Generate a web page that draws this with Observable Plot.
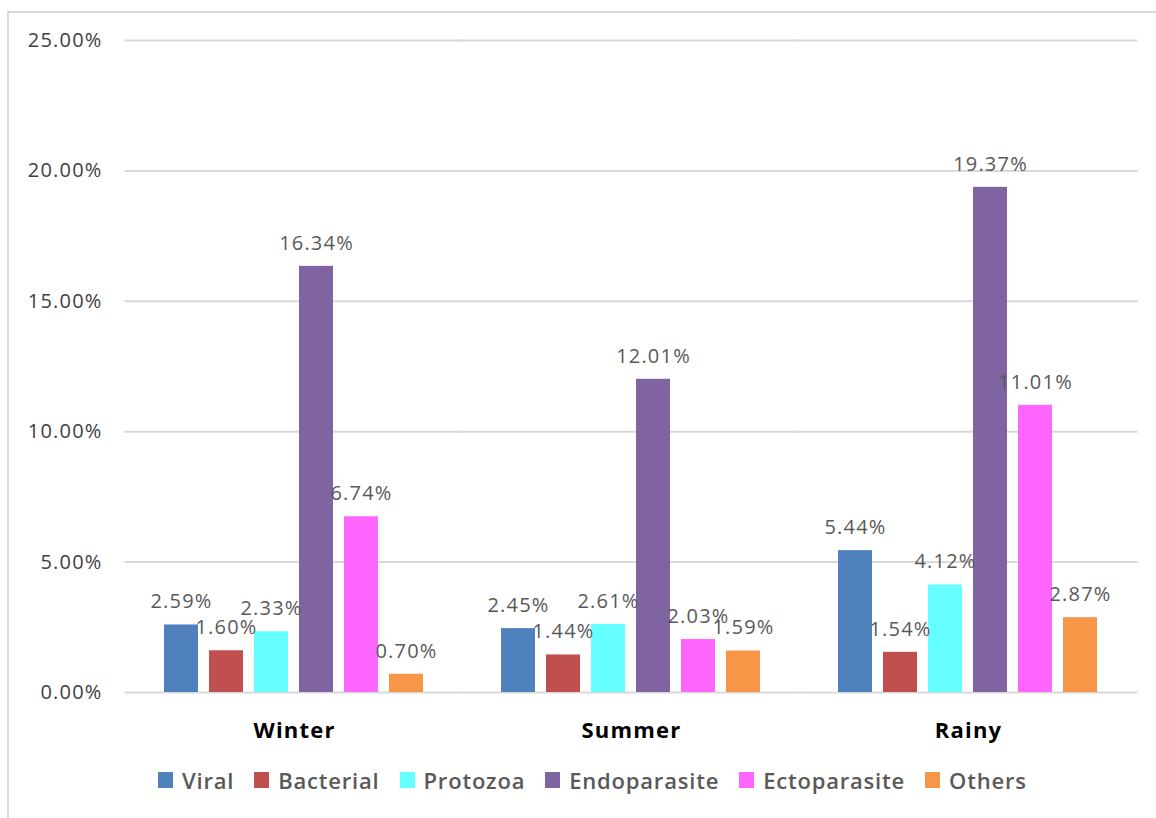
<!DOCTYPE html>
<html>
<head>
<meta charset="utf-8">
<script src="https://cdn.jsdelivr.net/npm/d3@7"></script>
<script src="https://cdn.jsdelivr.net/npm/@observablehq/plot@0.6"></script>
<style>
  html, body { margin: 0; padding: 0; background: #fff; }
  body { width: 1156px; height: 818px; position: relative; overflow: hidden; font-family: "Open Sans", sans-serif; }
  #frame { position: absolute; left: 7px; top: 11px; width: 1170px; height: 830px; border-left: 2px solid #d9d9d9; border-top: 2px solid #d9d9d9; }
  #chart { position: absolute; left: 0; top: 0; }
  #legend { position: absolute; left: 158px; top: 765px; display: flex; align-items: center; gap: 20px; font-size: 22px; font-weight: 600; letter-spacing: 0.8px; color: #595959; }
  .item { display: flex; align-items: center; gap: 9px; }
  .sw { width: 15px; height: 16px; display: inline-block; }
  #chart text { letter-spacing: 1.2px; }
</style>
</head>
<body>
<div id="frame"></div>
<div id="chart"></div>
<div id="legend"></div>
<script>
const seasons = ["Winter", "Summer", "Rainy"];
const categories = ["Viral", "Bacterial", "Protozoa", "Endoparasite", "Ectoparasite", "Others"];
const colors = ["#4f81bd", "#c0504d", "#66ffff", "#8064a2", "#ff66ff", "#f79646"];
const winter = [2.59, 1.60, 2.33, 16.34, 6.74, 0.70];
const summer = [2.45, 1.44, 2.61, 12.01, 2.03, 1.59];
const rainy = [5.44, 1.54, 4.12, 19.37, 11.01, 2.87];
const yTicks = [0, 5, 10, 15, 20, 25];

const seriesBySeason = [winter, summer, rainy];
const data = [];
seasons.forEach((s, i) => categories.forEach((c, j) => data.push({season: s, category: c, value: seriesBySeason[i][j]})));

const fmt = v => v.toFixed(2) + "%";

const chart = Plot.plot({
  width: 1156,
  height: 760,
  marginLeft: 124,
  marginRight: 19,
  marginTop: 40,
  marginBottom: 68,
  style: {fontFamily: "'Open Sans', sans-serif", background: "transparent"},
  fx: {domain: seasons, paddingInner: 0.2, paddingOuter: 0.1, label: null},
  x: {domain: categories, paddingInner: 0.24, paddingOuter: 0.12, axis: null},
  y: {domain: [0, 25], label: null},
  color: {domain: categories, range: colors},
  marks: [
    Plot.ruleY(yTicks, {stroke: "#d9d9d9", strokeWidth: 2, insetLeft: -34.5, insetRight: -34.5}),
    Plot.barY(data, {fx: "season", x: "category", y: "value", fill: "category"}),
    Plot.text(data, {fx: "season", x: "category", y: "value", text: d => fmt(d.value), dy: -23, fill: "#595959", fontSize: 20, textAnchor: "middle", lineAnchor: "middle"}),
    Plot.axisY({ticks: yTicks, tickFormat: fmt, tickSize: 0, tickPadding: 57, fontSize: 20, fill: "#404040"}),
    Plot.axisFx({anchor: "bottom", tickSize: 0, tickPadding: 30, fontSize: 22, fontWeight: "bold", fill: "#000", label: null})
  ]
});
document.getElementById("chart").appendChild(chart);

const legend = document.getElementById("legend");
categories.forEach((c, i) => {
  const item = document.createElement("div");
  item.className = "item";
  const sw = document.createElement("span");
  sw.className = "sw";
  sw.style.background = colors[i];
  const t = document.createElement("span");
  t.textContent = c;
  item.appendChild(sw);
  item.appendChild(t);
  legend.appendChild(item);
});
</script>
</body>
</html>
